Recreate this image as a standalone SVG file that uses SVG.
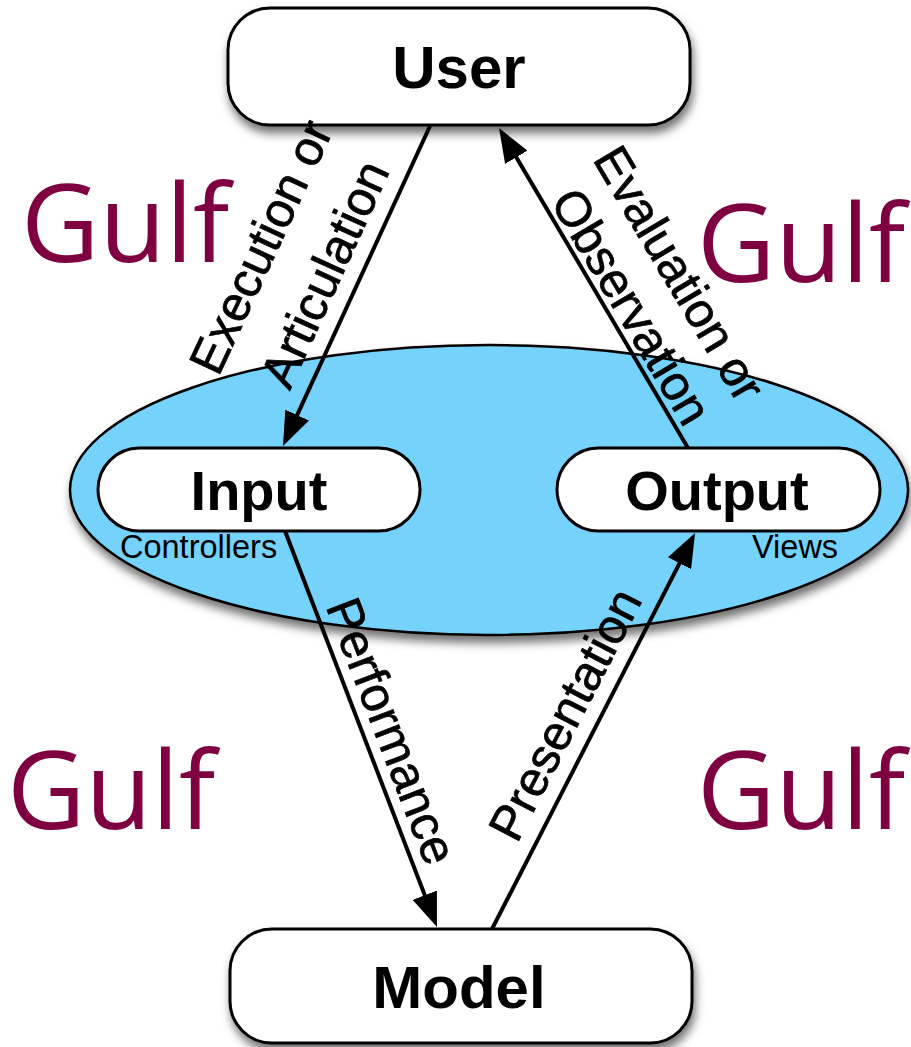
<svg xmlns="http://www.w3.org/2000/svg" width="911" height="1047" viewBox="0 0 911 1047">
<defs>
<style>
.box{fill:#fff;stroke:#000;stroke-width:3}
.title{font-family:"Liberation Sans",Arial,sans-serif;font-weight:bold;fill:#000;text-anchor:middle}
.lbl{font-family:"Liberation Sans",Arial,sans-serif;font-size:49px;fill:#000;stroke:#000;stroke-width:0.7;text-anchor:middle}
.small{font-family:"Liberation Sans",Arial,sans-serif;font-size:32.5px;fill:#000}
.gulf{font-family:"Open Sans","Noto Sans",sans-serif;font-size:108px;fill:#7F0040}
.conn{stroke:#000;stroke-width:4;fill:none;marker-end:url(#arr)}
</style>
<filter id="sh" x="-10%" y="-20%" width="125%" height="150%">
<feDropShadow dx="2" dy="7" stdDeviation="5" flood-color="#000" flood-opacity="0.55"/>
</filter>
<marker id="arr" markerUnits="userSpaceOnUse" viewBox="0 0 34 26" markerWidth="34" markerHeight="26" refX="26" refY="13" orient="auto">
<path d="M0,0 L34,13 L0,26 z" fill="#000"/>
</marker>
</defs>

<g id="ellipse">
<ellipse cx="489" cy="490" rx="419" ry="145" fill="#74D2FB" stroke="#000" stroke-width="2.5" filter="url(#sh)"/>
</g>

<g id="user">
<rect class="box" x="228" y="8" width="462" height="117" rx="42" filter="url(#sh)"/>
<text class="title" x="459" y="88" font-size="60">User</text>
</g>

<g id="model">
<rect class="box" x="230" y="929" width="462" height="114" rx="42" filter="url(#sh)"/>
<text class="title" x="459" y="1008" font-size="60">Model</text>
</g>

<g id="input">
<rect class="box" x="98" y="448" width="322" height="83" rx="41.5"/>
<text class="title" x="259" y="510" font-size="56">Input</text>
<text class="small" x="120" y="558">Controllers</text>
</g>

<g id="output">
<rect class="box" x="557" y="448" width="323" height="83" rx="41.5"/>
<text class="title" x="717" y="510" font-size="56">Output</text>
<text class="small" x="752" y="558">Views</text>
</g>

<g id="connectors">
<line class="conn" x1="430" y1="126" x2="286.3" y2="438.7"/>
<line class="conn" x1="688" y1="448" x2="503.1" y2="134.9"/>
<line class="conn" x1="285" y1="531" x2="434.1" y2="919.5"/>
<line class="conn" x1="492" y1="929" x2="691.4" y2="540.1"/>
</g>

<g id="labels">
<text class="lbl" transform="translate(276,254) rotate(-65)">Execution or</text>
<text class="lbl" transform="translate(340,281) rotate(-65.5)">Articulation</text>
<text class="lbl" transform="translate(665,282) rotate(59.3)">Evaluation or</text>
<text class="lbl" transform="translate(617,315) rotate(59.3)">Observation</text>
<text class="lbl" transform="translate(376,737) rotate(68.9)">Performance</text>
<text class="lbl" transform="translate(580,722) rotate(-62.7)">Presentation</text>
</g>

<g id="gulfs">
<text class="gulf" x="21" y="262">Gulf</text>
<text class="gulf" x="697" y="282" font-size="100">Gulf</text>
<text class="gulf" x="7" y="829" font-size="106">Gulf</text>
<text class="gulf" x="697" y="829" font-size="100">Gulf</text>
</g>
</svg>
